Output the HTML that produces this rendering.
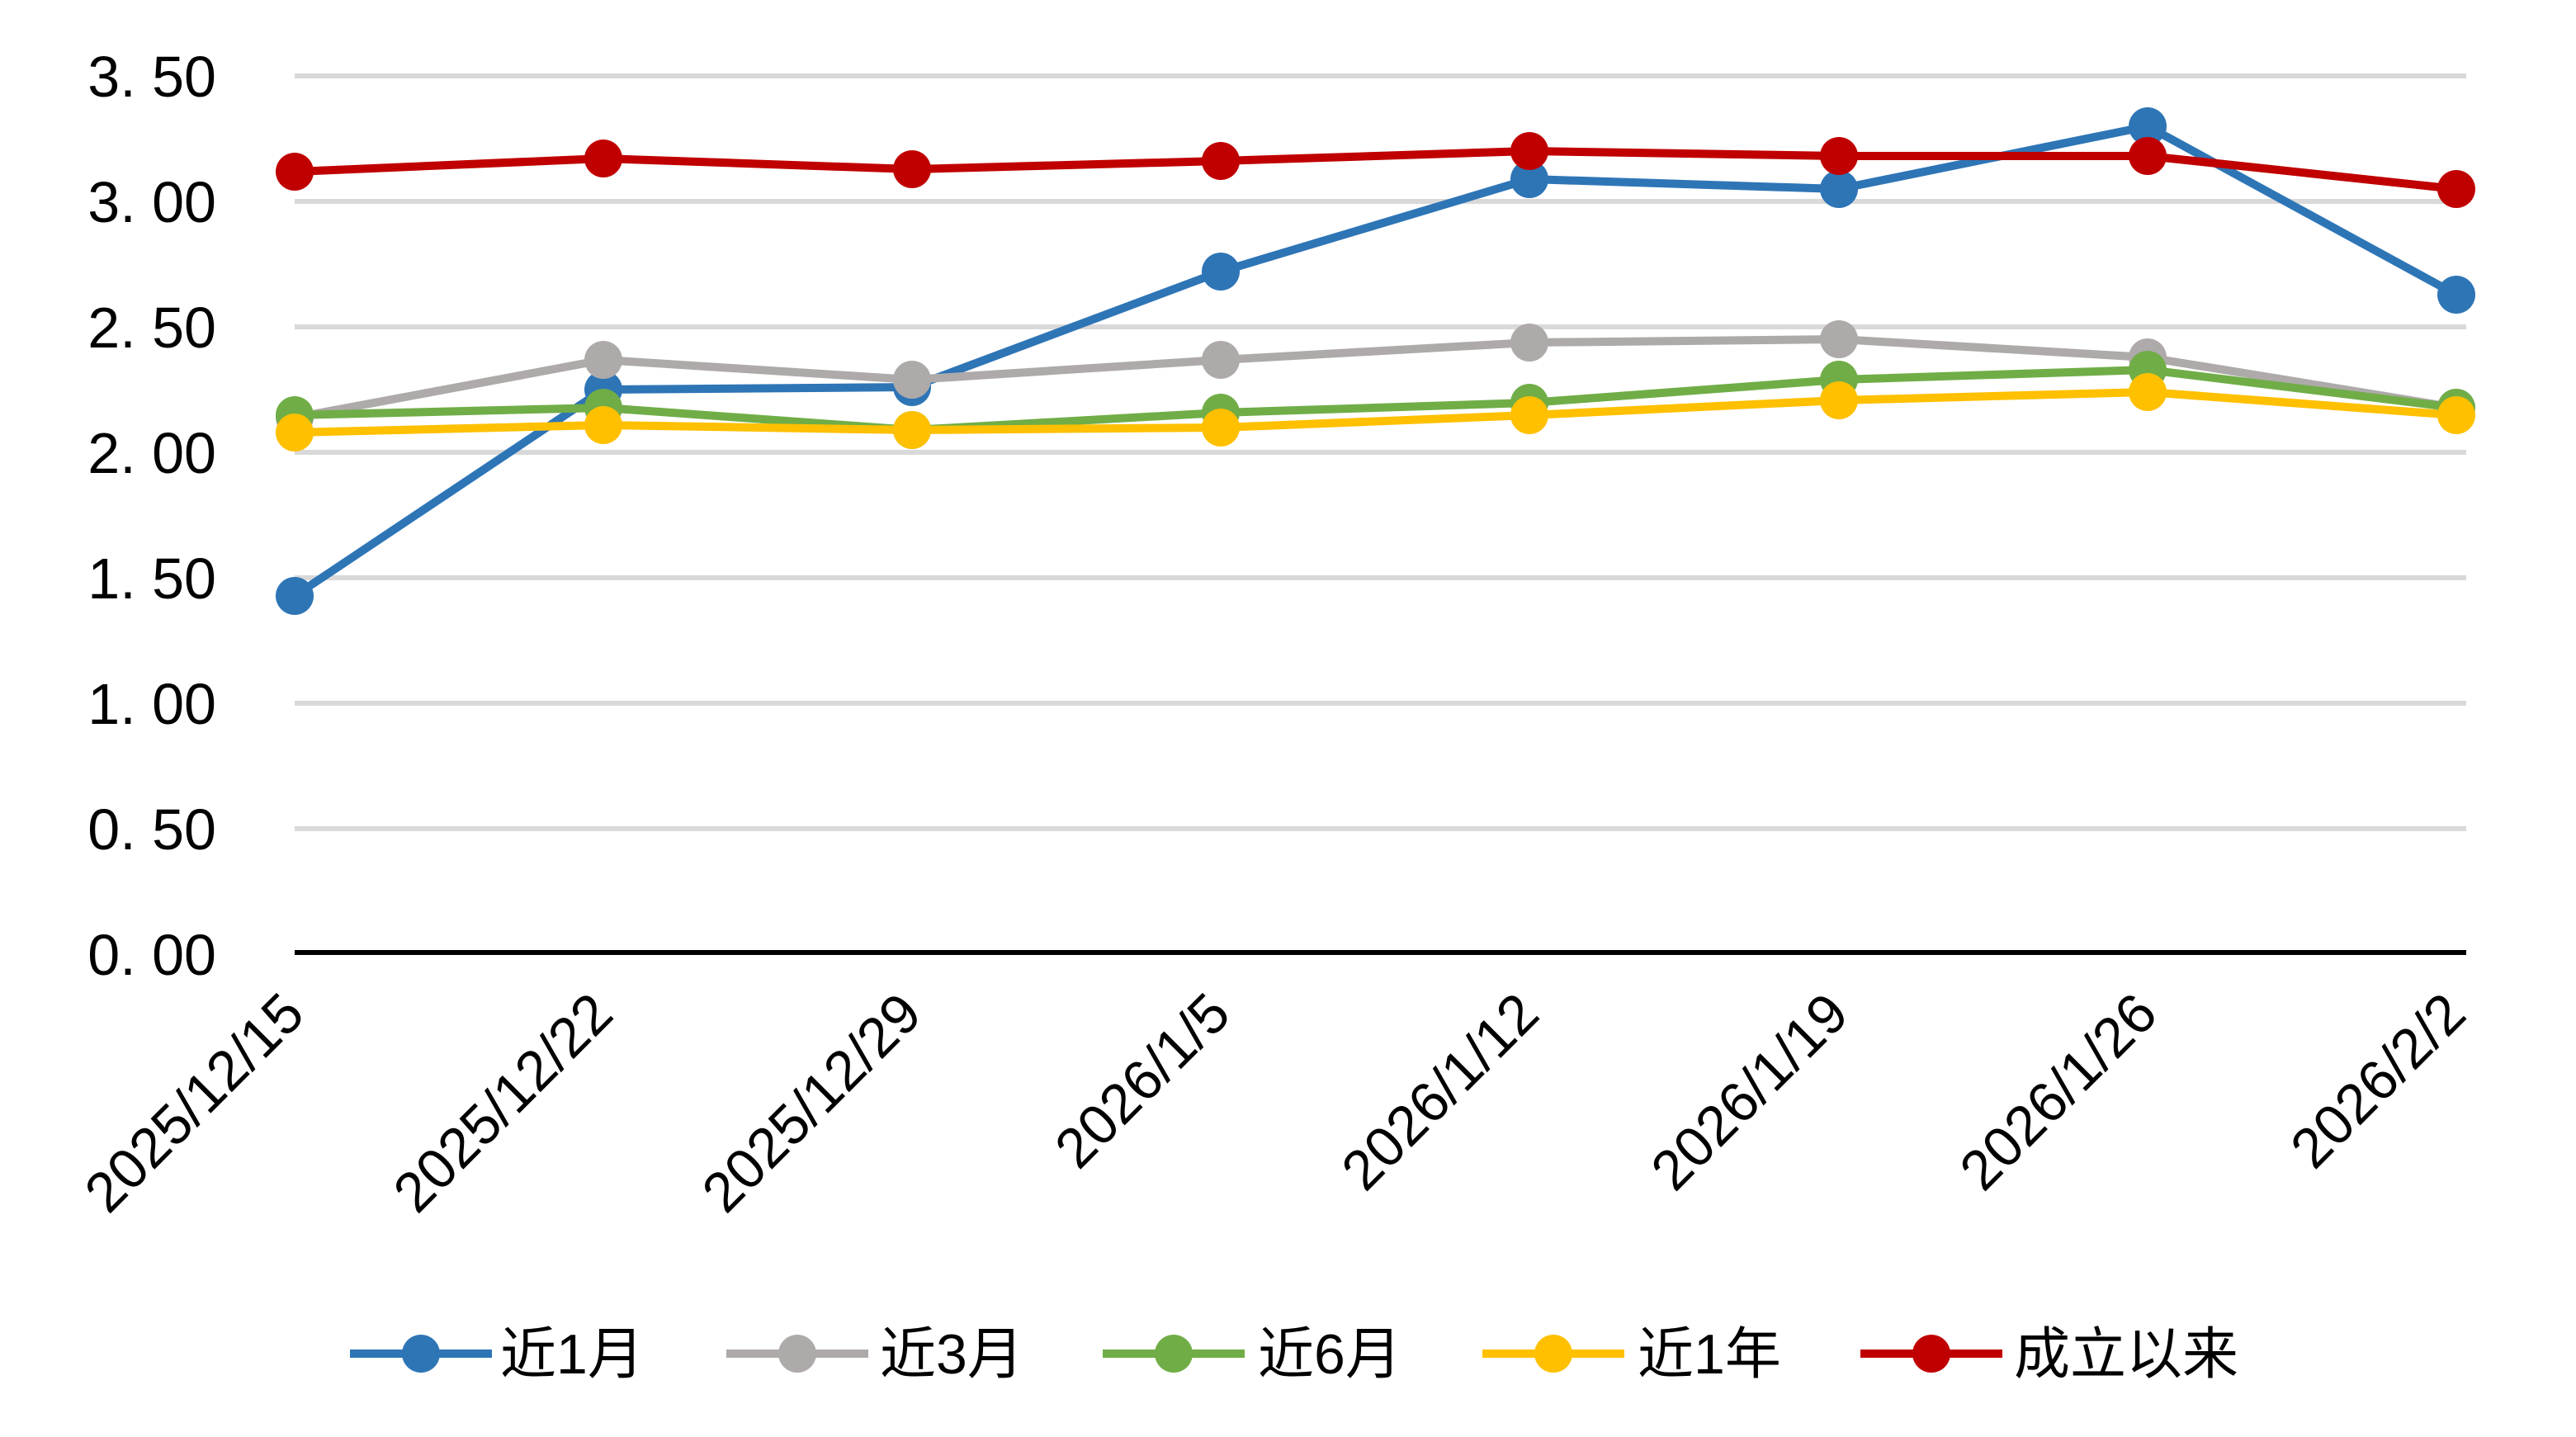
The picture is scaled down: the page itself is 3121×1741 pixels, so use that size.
<!DOCTYPE html>
<html><head><meta charset="utf-8"><style>html,body{margin:0;padding:0;background:#fff}svg{display:block}text{font-family:"Liberation Sans","Noto Sans CJK SC",sans-serif;fill:#000}</style></head>
<body>
<svg width="3121" height="1741" viewBox="0 0 3121 1741" xmlns="http://www.w3.org/2000/svg">
<g stroke="#d9d9d9" stroke-width="6">
<line x1="357" x2="2988" y1="92" y2="92"/>
<line x1="357" x2="2988" y1="244" y2="244"/>
<line x1="357" x2="2988" y1="396" y2="396"/>
<line x1="357" x2="2988" y1="548" y2="548"/>
<line x1="357" x2="2988" y1="700" y2="700"/>
<line x1="357" x2="2988" y1="852" y2="852"/>
<line x1="357" x2="2988" y1="1004" y2="1004"/>
</g>
<line x1="357" x2="2988" y1="1154" y2="1154" stroke="#000" stroke-width="6"/>
<g font-size="70" text-anchor="end">
<text x="262" y="117">3. 50</text>
<text x="262" y="269">3. 00</text>
<text x="262" y="421">2. 50</text>
<text x="262" y="573">2. 00</text>
<text x="262" y="725">1. 50</text>
<text x="262" y="877">1. 00</text>
<text x="262" y="1029">0. 50</text>
<text x="262" y="1181">0. 00</text>
</g>
<g font-size="68" text-anchor="end">
<text transform="translate(372,1232) rotate(-45)">2025/12/15</text>
<text transform="translate(746,1232) rotate(-45)">2025/12/22</text>
<text transform="translate(1120,1232) rotate(-45)">2025/12/29</text>
<text transform="translate(1494,1232) rotate(-45)">2026/1/5</text>
<text transform="translate(1868,1232) rotate(-45)">2026/1/12</text>
<text transform="translate(2243,1232) rotate(-45)">2026/1/19</text>
<text transform="translate(2617,1232) rotate(-45)">2026/1/26</text>
<text transform="translate(2991,1232) rotate(-45)">2026/2/2</text>
</g>
<g stroke-width="10" fill="none" stroke-linejoin="round">
<polyline stroke="#2e75b6" points="357,722 731,472 1105,469 1479,329 1853,217 2228,229 2602,153 2976,357"/>
<polyline stroke="#aeaaaa" points="357,506 731,436 1105,460 1479,436 1853,415 2228,411 2602,433 2976,494"/>
<polyline stroke="#70ad47" points="357,503 731,494 1105,521 1479,500 1853,488 2228,460 2602,448 2976,494"/>
<polyline stroke="#ffc000" points="357,524 731,515 1105,521 1479,518 1853,503 2228,485 2602,475 2976,503"/>
<polyline stroke="#c00000" points="357,208 731,192 1105,205 1479,195 1853,183 2228,189 2602,189 2976,229"/>
</g>
<g fill="#2e75b6"><circle cx="357" cy="722" r="23"/><circle cx="731" cy="472" r="23"/><circle cx="1105" cy="469" r="23"/><circle cx="1479" cy="329" r="23"/><circle cx="1853" cy="217" r="23"/><circle cx="2228" cy="229" r="23"/><circle cx="2602" cy="153" r="23"/><circle cx="2976" cy="357" r="23"/></g>
<g fill="#aeaaaa"><circle cx="357" cy="506" r="23"/><circle cx="731" cy="436" r="23"/><circle cx="1105" cy="460" r="23"/><circle cx="1479" cy="436" r="23"/><circle cx="1853" cy="415" r="23"/><circle cx="2228" cy="411" r="23"/><circle cx="2602" cy="433" r="23"/><circle cx="2976" cy="494" r="23"/></g>
<g fill="#70ad47"><circle cx="357" cy="503" r="23"/><circle cx="731" cy="494" r="23"/><circle cx="1105" cy="521" r="23"/><circle cx="1479" cy="500" r="23"/><circle cx="1853" cy="488" r="23"/><circle cx="2228" cy="460" r="23"/><circle cx="2602" cy="448" r="23"/><circle cx="2976" cy="494" r="23"/></g>
<g fill="#ffc000"><circle cx="357" cy="524" r="23"/><circle cx="731" cy="515" r="23"/><circle cx="1105" cy="521" r="23"/><circle cx="1479" cy="518" r="23"/><circle cx="1853" cy="503" r="23"/><circle cx="2228" cy="485" r="23"/><circle cx="2602" cy="475" r="23"/><circle cx="2976" cy="503" r="23"/></g>
<g fill="#c00000"><circle cx="357" cy="208" r="23"/><circle cx="731" cy="192" r="23"/><circle cx="1105" cy="205" r="23"/><circle cx="1479" cy="195" r="23"/><circle cx="1853" cy="183" r="23"/><circle cx="2228" cy="189" r="23"/><circle cx="2602" cy="189" r="23"/><circle cx="2976" cy="229" r="23"/></g>
<g stroke-width="10">
<line x1="424" x2="596" y1="1640" y2="1640" stroke="#2e75b6"/><circle cx="510" cy="1640" r="23" fill="#2e75b6"/>
<line x1="880" x2="1052" y1="1640" y2="1640" stroke="#aeaaaa"/><circle cx="966" cy="1640" r="23" fill="#aeaaaa"/>
<line x1="1336" x2="1508" y1="1640" y2="1640" stroke="#70ad47"/><circle cx="1422" cy="1640" r="23" fill="#70ad47"/>
<line x1="1796" x2="1968" y1="1640" y2="1640" stroke="#ffc000"/><circle cx="1882" cy="1640" r="23" fill="#ffc000"/>
<line x1="2254" x2="2426" y1="1640" y2="1640" stroke="#c00000"/><circle cx="2340" cy="1640" r="23" fill="#c00000"/>
</g>
<g font-size="68">
<text x="606" y="1664">近1月</text>
<text x="1066" y="1664">近3月</text>
<text x="1524" y="1664">近6月</text>
<text x="1984" y="1664">近1年</text>
<text x="2440" y="1664">成立以来</text>
</g>
</svg>
</body></html>
